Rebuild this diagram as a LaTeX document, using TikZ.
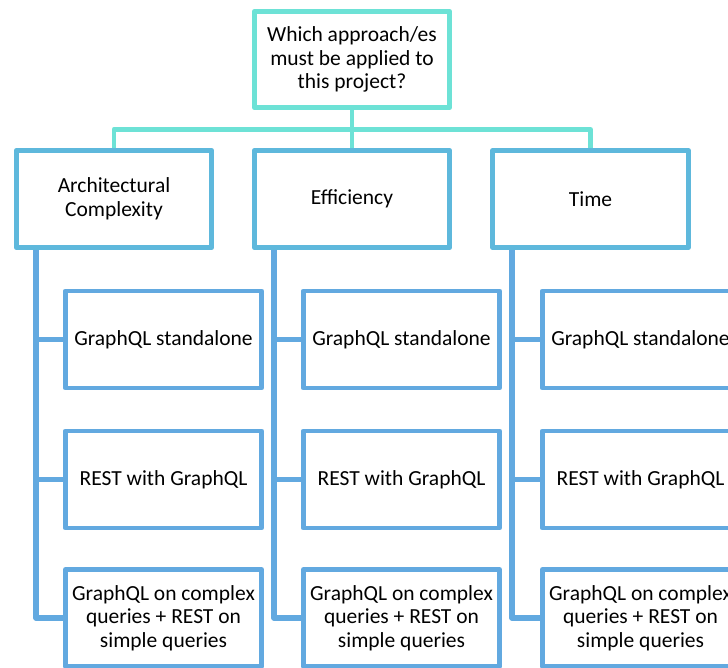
\documentclass[tikz,border=0pt]{standalone}
\usepackage{fontspec}
\setmainfont{Carlito}
\definecolor{rootline}{HTML}{6DE2D6}
\definecolor{critline}{HTML}{5EB8DC}
\definecolor{optline}{HTML}{62A9E0}
\tikzset{
  every node/.style={font=\fontsize{21.5}{23.5}\selectfont, align=center, inner sep=0pt},
  rootbox/.style={draw=rootline, line width=4.7pt, line join=round, fill=white,
    minimum width=195.5pt, minimum height=96.5pt},
  critbox/.style={draw=critline, line width=4.7pt, line join=round, fill=white,
    minimum width=195.5pt, minimum height=97.5pt},
  optbox/.style={draw=optline, line width=4.9pt, line join=round, fill=white,
    minimum width=196pt, minimum height=97pt},
  rootlink/.style={draw=rootline, line width=4.9pt, line join=round},
  optlink/.style={draw=optline, line width=5.2pt, line join=round},
}
\begin{document}
\begin{tikzpicture}[x=1pt, y=-1pt]
\useasboundingbox (0,0) rectangle (728,668);
\clip (0,0) rectangle (728,668);

% question at the top
\node[rootbox] (q) at (352,59.5) {Which approach/es\\must be applied to\\this project?};

% criteria
\node[critbox] (k1) at (114,199)   {Architectural\\Complexity};
\node[critbox] (k2) at (352,199)   {Efficiency};
\node[critbox] (k3) at (590.5,199) {Time};

% bus joining the question to the criteria
\coordinate (bus) at (352,129.5);
\draw[rootlink] (q.south) -- (bus);
\draw[rootlink] (k1.north) |- (bus) -| (k3.north);
\draw[rootlink] (k2.north |- bus) -- (k2.north);

% options under each criterion
\foreach \i/\cx/\sx in {1/163.5/36, 2/401.5/274, 3/640.5/512} {
  \node[optbox] (o\i a) at (\cx,339.5) {GraphQL standalone};
  \node[optbox] (o\i b) at (\cx,479.5) {REST with GraphQL};
  \node[optbox] (o\i c) at (\cx,618)   {GraphQL on complex\\queries + REST on\\simple queries};
  \coordinate (sp\i) at (\sx,250);
  \draw[optlink] (sp\i) |- (o\i c.west);
  \draw[optlink] (sp\i |- o\i a.west) -- (o\i a.west);
  \draw[optlink] (sp\i |- o\i b.west) -- (o\i b.west);
}
\end{tikzpicture}
\end{document}
